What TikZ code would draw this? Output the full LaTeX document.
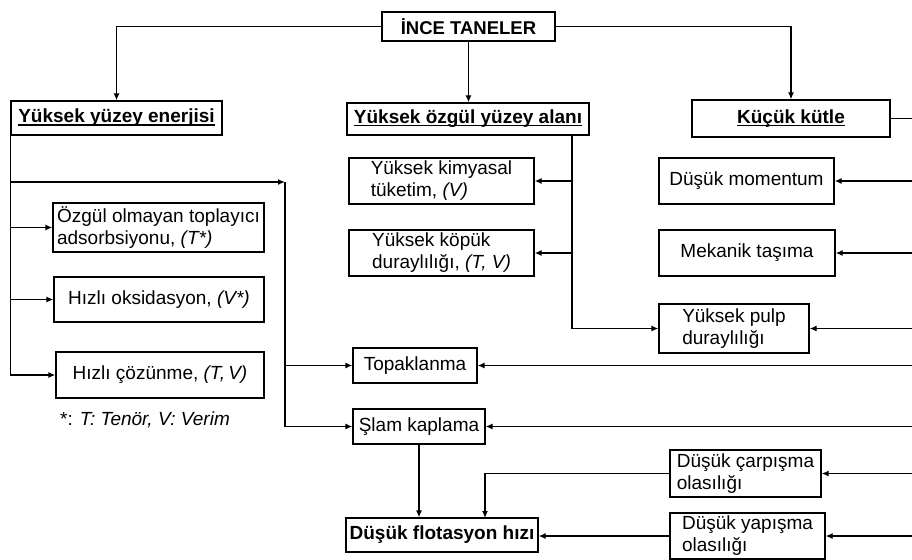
\documentclass[tikz,border=0pt]{standalone}
\usepackage{fontspec}
\setmainfont{Liberation Sans}
\usetikzlibrary{arrows.meta}
\newcommand{\altciz}[1]{\setbox0\hbox{#1}\rlap{\rule[-2.6pt]{\wd0}{1.3pt}}\box0}
\tikzset{kutu/.style={draw, line width=1.3pt, inner sep=2pt, align=center},
         solkutu/.style={kutu, align=left},
         ok/.style={-{Latex[length=7pt,width=6pt]}, line width=1.3pt},
         cizgi/.style={line width=1.3pt}}

\begin{document}
\begin{tikzpicture}[x=1pt, y=-1pt, font=\fontsize{19}{22}\selectfont]
\useasboundingbox (0,0) rectangle (912,559);
% ana basliklar
\node[kutu, line width=2.8pt, minimum width=173, minimum height=29, font=\fontsize{18.5}{22}\selectfont\bfseries] (ince) at (468.5,26.5) {İNCE TANELER};
\node[kutu, minimum width=211, minimum height=34, font=\fontsize{19}{22}\selectfont\bfseries] (yye) at (116.5,118) {\altciz{Yüksek yüzey enerjisi}};
\node[kutu, minimum width=242, minimum height=32, font=\fontsize{19}{22}\selectfont\bfseries] (yoz) at (468,119) {\altciz{Yüksek özgül yüzey alanı}};
\node[kutu, minimum width=198, minimum height=37, font=\fontsize{19}{22}\selectfont\bfseries] (kk) at (791,118.5) {\altciz{Küçük kütle}};
% sol kol
\node[solkutu, minimum width=211, minimum height=49] (ozgul) at (158.5,227.5) {Özgül olmayan toplayıcı\\adsorbsiyonu, \textit{(T*)}};
\node[kutu, minimum width=210, minimum height=45] (oks) at (159,299.5) {Hızlı oksidasyon, \textit{(V*)}};
\node[kutu, minimum width=208, minimum height=46] (coz) at (160,375) {Hızlı çözünme, \textit{(T,\,V)}};
\node (dipnot) at (145,420) {*: \textit{T: Tenör, V: Verim}};
% orta kol
\node[solkutu, minimum width=185, minimum height=46] (kimya) at (441.5,181) {Yüksek kimyasal\\tüketim, \textit{(V)}};
\node[solkutu, minimum width=185, minimum height=46] (kopuk) at (441.5,253) {Yüksek köpük\\duraylılığı, \textit{(T, V)}};
\node[kutu, minimum width=124, minimum height=35] (topak) at (415,365.5) {Topaklanma};
\node[kutu, minimum width=132, minimum height=35] (slam) at (419,426.5) {Şlam kaplama};
\node[kutu, minimum width=192, minimum height=34, font=\fontsize{19}{22}\selectfont\bfseries] (flot) at (442,535) {Düşük flotasyon hızı};
% sag kol
\node[kutu, minimum width=175, minimum height=46] (moment) at (746.5,181) {Düşük momentum};
\node[kutu, minimum width=176, minimum height=46] (mekanik) at (747,253) {Mekanik taşıma};
\node[solkutu, minimum width=150, minimum height=49] (pulp) at (734,328.5) {Yüksek pulp\\duraylılığı};
\node[solkutu, minimum width=151, minimum height=47] (carp) at (745.5,473.5) {Düşük çarpışma\\olasılığı};
\node[solkutu, minimum width=155, minimum height=46] (yapis) at (747.5,536) {Düşük yapışma\\olasılığı};
% yardimci noktalar
\coordinate (sag) at (912,0);
\coordinate (dag) at (285,182);
\coordinate (yozalt) at (572,135);
\coordinate (carpin) at (485,518);
% baglantilar
\draw[ok] (ince.west) -| (yye.north);
\draw[ok] (ince.south) -- (ince.south |- yoz.north);
\draw[ok] (ince.east) -| (kk.north);
\draw[cizgi] (kk.east) -- (kk.east -| sag);
\draw[cizgi] (yye.south west) -- (yye.south west |- coz.west);
\draw[ok] (yye.south west |- dag) -- (dag);
\draw[ok] (yye.south west |- ozgul.west) -- (ozgul.west);
\draw[ok] (yye.south west |- oks.west) -- (oks.west);
\draw[ok] (yye.south west |- coz.west) -- (coz.west);
\draw[ok] (dag) |- (slam.west);
\draw[ok] (dag |- topak.west) -- (topak.west);
\draw[ok] (yozalt) |- (pulp.west);
\draw[ok] (yozalt |- kimya.east) -- (kimya.east);
\draw[ok] (yozalt |- kopuk.east) -- (kopuk.east);
\draw[ok] (sag |- moment.east) -- (moment.east);
\draw[ok] (sag |- mekanik.east) -- (mekanik.east);
\draw[ok] (sag |- pulp.east) -- (pulp.east);
\draw[ok] (sag |- topak.east) -- (topak.east);
\draw[ok] (sag |- slam.east) -- (slam.east);
\draw[ok] (sag |- carp.east) -- (carp.east);
\draw[ok] (sag |- yapis.east) -- (yapis.east);
\draw[ok] (slam.south) -- (slam.south |- flot.north);
\draw[ok] (carp.west) -| (carpin);
\draw[ok] (yapis.west) -- (yapis.west -| flot.east);
\end{tikzpicture}
\end{document}
